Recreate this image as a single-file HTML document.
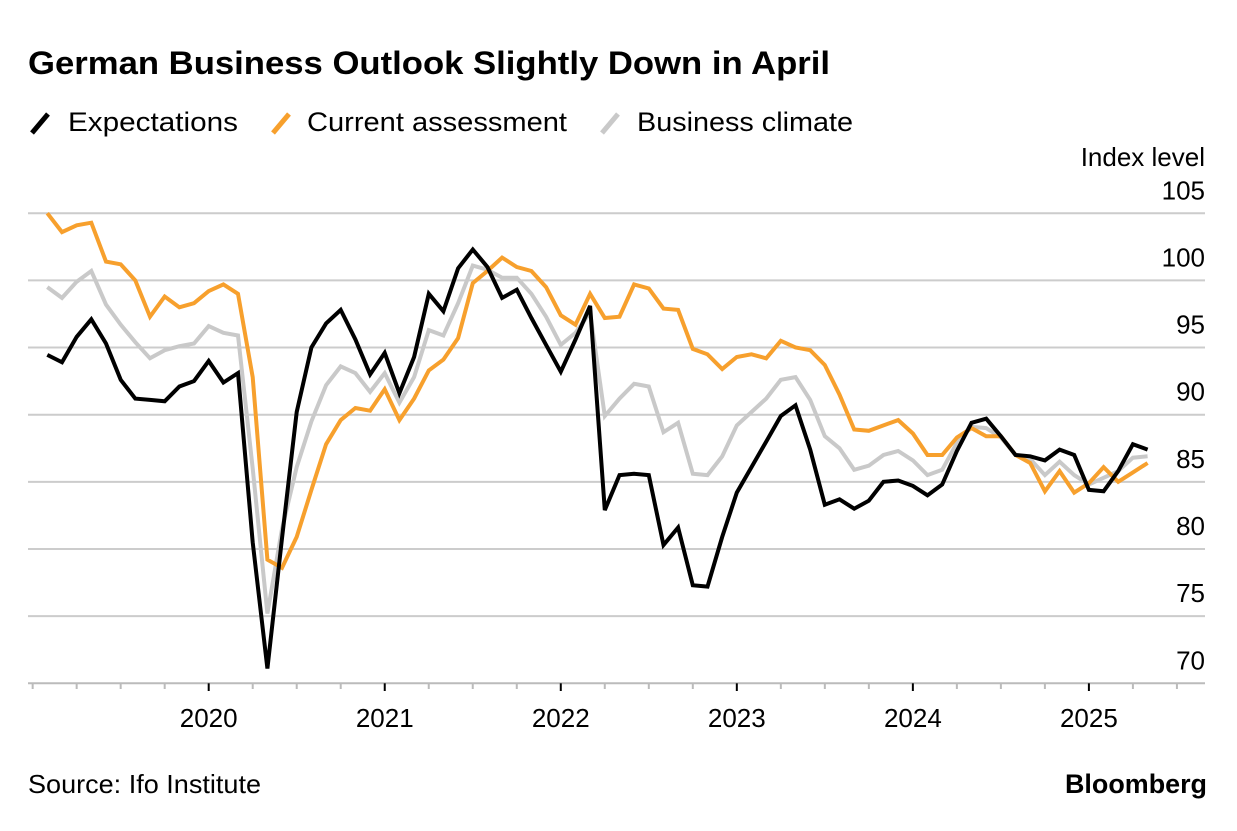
<!DOCTYPE html>
<html><head><meta charset="utf-8"><style>
body{margin:0;background:#fff;}
svg text{font-family:"Liberation Sans",Arial,sans-serif;}
</style></head><body>
<svg id="chart" width="1237" height="826" viewBox="0 0 1237 826" xmlns="http://www.w3.org/2000/svg">
<text x="28" y="74" font-size="32" font-weight="bold" fill="#000" textLength="802" lengthAdjust="spacingAndGlyphs">German Business Outlook Slightly Down in April</text>
<g>
<g><line x1="32" y1="133" x2="48" y2="114" stroke="#000" stroke-width="5"/><text x="68" y="131" font-size="27" textLength="170" lengthAdjust="spacingAndGlyphs">Expectations</text></g>
<g><line x1="273" y1="133" x2="289" y2="114" stroke="#f7a02d" stroke-width="5"/><text x="307" y="131" font-size="27" textLength="260" lengthAdjust="spacingAndGlyphs">Current assessment</text></g>
<g><line x1="602" y1="133" x2="618" y2="114" stroke="#c9c9c9" stroke-width="5"/><text x="637" y="131" font-size="27" textLength="216" lengthAdjust="spacingAndGlyphs">Business climate</text></g>
</g>
<text x="1205" y="166" font-size="26" text-anchor="end">Index level</text>
<g id="grid"></g>
<g id="yticks"></g>
<g id="xaxis"></g>
<g id="series"></g>
<text x="28" y="793" font-size="26" textLength="233" lengthAdjust="spacingAndGlyphs">Source: Ifo Institute</text>
<text x="1207" y="793" font-size="27" font-weight="bold" text-anchor="end" textLength="142" lengthAdjust="spacingAndGlyphs">Bloomberg</text>
</svg>
<script>
const yTicks = [70, 75, 80, 85, 90, 95, 100, 105];
const yearLabels = ["2020", "2021", "2022", "2023", "2024", "2025"];
const startMonth = 1; // Feb 2019 (months since Jan 2019)
const expectations = [94.45,93.9,95.8,97.1,95.3,92.6,91.2,91.1,91.0,92.1,92.5,94.0,92.4,93.1,80.5,71.1,80.8,90.2,95.0,96.8,97.8,95.6,93.0,94.6,91.6,94.3,99.0,97.7,100.9,102.3,101.0,98.7,99.3,97.2,95.2,93.2,95.6,98.1,82.9,85.5,85.6,85.5,80.3,81.6,77.3,77.2,80.9,84.2,86.1,88.0,89.9,90.7,87.4,83.3,83.7,83.0,83.6,85.0,85.1,84.7,84.0,84.8,87.3,89.4,89.7,88.4,87.0,86.9,86.6,87.4,87.0,84.4,84.3,85.8,87.8,87.4];
const current = [105.0,103.6,104.1,104.3,101.4,101.2,100.0,97.3,98.8,98.0,98.3,99.2,99.7,99.0,92.8,79.2,78.6,80.9,84.4,87.8,89.6,90.5,90.3,91.9,89.6,91.2,93.3,94.1,95.7,99.8,100.7,101.7,101.0,100.7,99.5,97.4,96.7,99.0,97.2,97.3,99.7,99.4,97.9,97.8,94.9,94.5,93.4,94.3,94.5,94.2,95.5,95.0,94.8,93.7,91.5,88.9,88.8,89.2,89.6,88.6,87.0,87.0,88.3,89.0,88.4,88.4,87.0,86.4,84.3,85.8,84.2,84.9,86.1,85.0,85.7,86.4];
const climate = [99.5,98.7,99.9,100.7,98.2,96.7,95.4,94.2,94.8,95.1,95.3,96.6,96.1,95.9,86.0,75.2,81.5,86.1,89.5,92.2,93.6,93.1,91.7,93.1,90.9,92.8,96.3,95.9,98.3,101.1,100.8,100.2,100.2,99.0,97.3,95.2,96.1,97.6,89.9,91.2,92.3,92.1,88.7,89.4,85.6,85.5,86.9,89.2,90.2,91.2,92.6,92.8,91.1,88.4,87.5,85.9,86.2,87.0,87.3,86.6,85.5,85.9,87.9,89.1,89.0,88.3,87.0,86.7,85.5,86.5,85.5,84.8,85.3,85.8,86.8,86.9];

const NS = "http://www.w3.org/2000/svg";
const x0 = 208.7, pxMonth = 14.67; // Jan 2020
const yScale = v => 683.3 - (v - 70) * 13.43;
const xScale = m => x0 + (m - 12) * pxMonth; // m = months since Jan 2019
function mk(tag, attrs, parent) { const e = document.createElementNS(NS, tag); for (const k in attrs) e.setAttribute(k, attrs[k]); parent.appendChild(e); return e; }

const grid = document.getElementById('grid'), yt = document.getElementById('yticks');
yTicks.forEach(v => {
  const y = yScale(v);
  if (v > 70) {
    const l = mk('line', {x1: 28, x2: 1205, y1: y, y2: y, stroke: '#cccccc', 'stroke-width': 2}, grid);
    
    
  }
  const t = mk('text', {x: 1205, y: y - 14, 'font-size': 26, 'text-anchor': 'end'}, yt);
  t.textContent = v;
  
  
});

const xa = document.getElementById('xaxis');
const base = mk('line', {x1: 28, x2: 1205, y1: 683.3, y2: 683.3, stroke: '#bbbbbb', 'stroke-width': 2}, xa);


for (let m = 0; m <= 78; m += 3) {
  const x = xScale(m);
  if (x < 28 || x > 1205) continue;
  const major = m % 12 === 0 && m > 0;
  const tk = mk('line', {x1: x, x2: x, y1: 683.3, y2: major ? 691 : 689, stroke: major ? '#000' : '#bbbbbb', 'stroke-width': 2}, xa);
  
  
}
yearLabels.forEach((lab, i) => {
  const t = mk('text', {x: xScale(12 * (i + 1)), y: 727, 'font-size': 26, 'text-anchor': 'middle'}, xa);
  t.textContent = lab;
  
  
});

const sg = document.getElementById('series');
function draw(vals, color, name) {
  const pts = vals.map((v, i) => xScale(startMonth + i).toFixed(1) + ',' + yScale(v).toFixed(1)).join(' ');
  const p = mk('polyline', {points: pts, fill: 'none', stroke: color, 'stroke-width': 4, 'stroke-linejoin': 'miter', 'stroke-miterlimit': 3}, sg);
  
  
}
draw(climate, '#c9c9c9', 'business-climate-line');
draw(current, '#f7a02d', 'current-assessment-line');
draw(expectations, '#000000', 'expectations-line');
</script>
</body></html>
